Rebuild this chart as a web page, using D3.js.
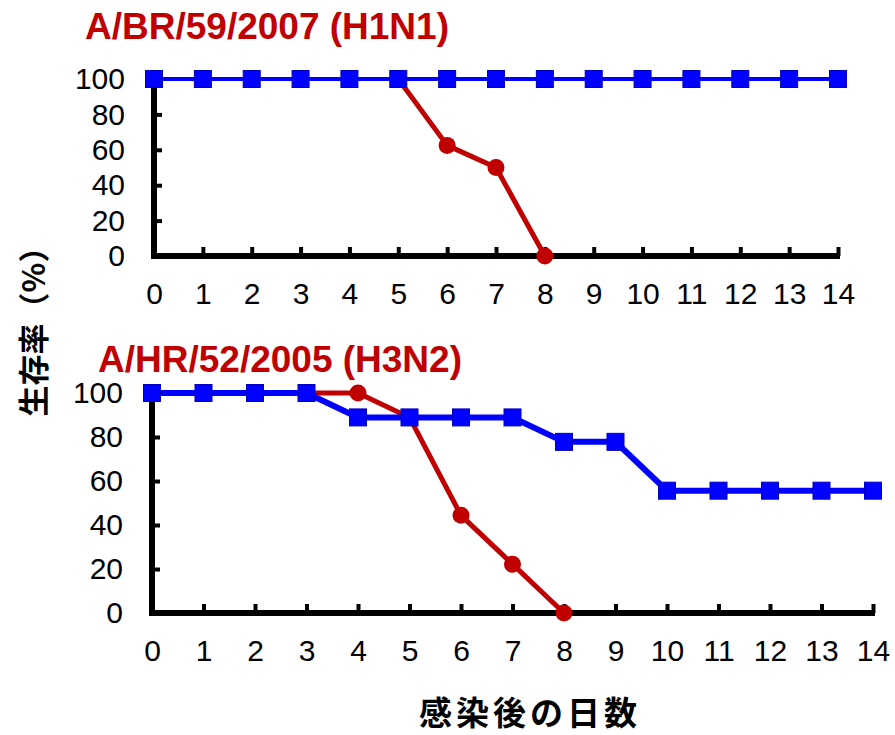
<!DOCTYPE html>
<html>
<head>
<meta charset="utf-8">
<script src="https://cdn.jsdelivr.net/npm/d3@7"></script>
<style>
  body { margin: 0; background: #fff; }
  .tick text { font-family: "Liberation Sans", Arial, sans-serif; font-size: 30px; fill: #000; }
</style>
</head>
<body>
<script>
'use strict';

// days after infection
const days = [0, 1, 2, 3, 4, 5, 6, 7, 8, 9, 10, 11, 12, 13, 14];
const yTicks = [0, 20, 40, 60, 80, 100];

// A/BR/59/2007 (H1N1) survival (%), red curve only drawn from day 5
const brBlue = [100, 100, 100, 100, 100, 100, 100, 100, 100, 100, 100, 100, 100, 100, 100];
const brRed = [null, null, null, null, null, 100, 62.5, 50, 0];

// A/HR/52/2005 (H3N2) survival (%)
const hrBlue = [100, 100, 100, 100, 88.9, 88.9, 88.9, 88.9, 77.8, 77.8, 55.6, 55.6, 55.6, 55.6, 55.6];
const hrRed = [100, 100, 100, 100, 100, 88.9, 44.4, 22.2, 0];

const titles = ["A/BR/59/2007 (H1N1)", "A/HR/52/2005 (H3N2)"];

(function() {

  let svgContainer = "";

  window.onload = function() {
    svgContainer = d3.select('body')
      .append('svg')
      .attr('width', 895)
      .attr('height', 735);

    // top panel
    makePanel({ left: 154, right: 838, top: 79, bottom: 256, blueWidth: 4 },
      brBlue, brRed, titles[0], { x: 85, y: 39 });

    // bottom panel
    makePanel({ left: 152, right: 873, top: 393, bottom: 613, blueWidth: 6 },
      hrBlue, hrRed, titles[1], { x: 98, y: 372 });

    makeLabels();
  }

  // one survival plot with its axes and title
  function makePanel(box, blueVals, redVals, title, titlePos) {
    let x = d3.scaleLinear().domain([0, 14]).range([box.left, box.right]);
    let y = d3.scaleLinear().domain([0, 100]).range([box.bottom, box.top]);

    let g = svgContainer.append('g');

    // x axis, ticks point up
    let xAxis = g.append('g')
      .attr('transform', 'translate(0,' + box.bottom + ')')
      .call(d3.axisBottom(x).tickValues(days).tickSizeInner(-9).tickSizeOuter(0).tickPadding(27));
    xAxis.selectAll('.tick line').attr('stroke', '#000').attr('stroke-width', 4);

    // y axis, ticks point right
    let yAxis = g.append('g')
      .attr('transform', 'translate(' + box.left + ',0)')
      .call(d3.axisLeft(y).tickValues(yTicks).tickSizeInner(-8).tickSizeOuter(0).tickPadding(29));
    yAxis.selectAll('.tick line').attr('stroke', '#000').attr('stroke-width', 4);

    // heavy axis lines drawn on their own
    g.selectAll('.domain').remove();
    g.append('path')
      .attr('fill', 'none')
      .attr('stroke', '#000')
      .attr('stroke-width', 6)
      .attr('d', 'M' + x(0) + ',' + y(100) + 'V' + y(0) + 'H' + (x(14) + 2));

    let line = d3.line()
      .defined(d => d !== null)
      .x((d, i) => x(days[i]))
      .y(d => y(d));

    // red series under the blue one
    g.append('path')
      .datum(redVals)
      .attr('fill', 'none')
      .attr('stroke', '#c00000')
      .attr('stroke-width', 5)
      .attr('stroke-linejoin', 'round')
      .attr('d', line);

    g.selectAll('.redDot')
      .data(redVals.map((v, i) => ({ day: days[i], v: v })).filter(d => d.v !== null))
      .enter()
      .append('circle')
      .attr('class', 'redDot')
      .attr('cx', d => x(d.day))
      .attr('cy', d => y(d.v))
      .attr('r', 8.5)
      .attr('fill', '#c00000');

    g.append('path')
      .datum(blueVals)
      .attr('fill', 'none')
      .attr('stroke', '#0000ff')
      .attr('stroke-width', box.blueWidth)
      .attr('d', line);

    g.selectAll('.blueSq')
      .data(blueVals)
      .enter()
      .append('rect')
      .attr('class', 'blueSq')
      .attr('x', (d, i) => x(days[i]) - 8.5)
      .attr('y', d => y(d) - 8.5)
      .attr('width', 17)
      .attr('height', 17)
      .attr('fill', '#0000ff')
      .attr('stroke', '#0000c0')
      .attr('stroke-width', 1);

    svgContainer.append('text')
      .attr('x', titlePos.x)
      .attr('y', titlePos.y)
      .style('font-family', '"Liberation Sans", Arial, sans-serif')
      .style('font-size', '37px')
      .style('font-weight', 'bold')
      .style('fill', '#c00000')
      .text(title);
  }

  // shared axis titles
  function makeLabels() {
    svgContainer.append('text')
      .attr('transform', 'translate(45, 324)rotate(-90)')
      .attr('text-anchor', 'middle')
      .style('font-family', '"Noto Sans CJK JP", sans-serif')
      .style('font-size', '31px')
      .style('font-weight', 'bold')
      .text('生存率（%）');

    svgContainer.append('text')
      .attr('x', 530)
      .attr('y', 725)
      .attr('text-anchor', 'middle')
      .style('font-family', '"Noto Sans CJK JP", sans-serif')
      .style('font-size', '33px')
      .style('font-weight', 'bold')
      .style('letter-spacing', '4px')
      .text('感染後の日数');
  }

})();
</script>
</body>
</html>
